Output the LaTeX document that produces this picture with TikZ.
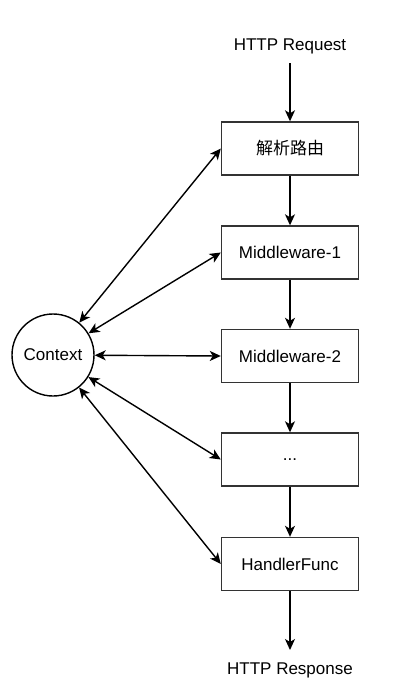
\documentclass[tikz,border=0pt]{standalone}
\usepackage{fontspec}
\setmainfont{Liberation Sans}
\newfontfamily\cjk{Noto Sans CJK SC}
\usetikzlibrary{arrows.meta}
\begin{document}
\begin{tikzpicture}[x=1pt,y=-1pt,
  stepbox/.style={draw=black!80, line width=1.4pt, fill=white, minimum width=137pt, minimum height=53pt, inner sep=0pt, font=\fontsize{17}{20}\selectfont},
  lbl/.style={font=\fontsize{17}{20}\selectfont, inner sep=0pt},
  conn/.style={line width=1.4pt, -{Stealth[length=11pt,width=10pt,inset=3pt]}},
  biconn/.style={line width=1.4pt, {Stealth[length=11pt,width=10pt,inset=3pt]}-{Stealth[length=11pt,width=10pt,inset=3pt]}}]
\useasboundingbox (0,0) rectangle (405,689);
\node[lbl] (req) at (290,46) {HTTP Request};
\node[stepbox] (b1) at (290,148.5) {\cjk 解析路由};
\node[stepbox] (b2) at (290,252.5) {Middleware-1};
\node[stepbox] (b3) at (290,356) {Middleware-2};
\node[stepbox] (b4) at (290,459.5) {...};
\node[stepbox] (b5) at (290,564) {HandlerFunc};
\node[lbl] (resp) at (290,670) {HTTP Response};
\node[draw, circle, line width=1.4pt, minimum size=82pt, inner sep=0pt, font=\fontsize{17}{20}\selectfont] (ctx) at (53,355) {Context};
\coordinate (rq) at (290,63);
\coordinate (rs) at (290,650);
\draw[conn] (rq) -- (b1.north);
\draw[conn] (b1) -- (b2);
\draw[conn] (b2) -- (b3);
\draw[conn] (b3) -- (b4);
\draw[conn] (b4) -- (b5);
\draw[conn] (b5.south) -- (rs);
\foreach \b in {b1,b2,b3,b4,b5} \draw[biconn] (ctx) -- (\b.west);
\end{tikzpicture}
\end{document}
